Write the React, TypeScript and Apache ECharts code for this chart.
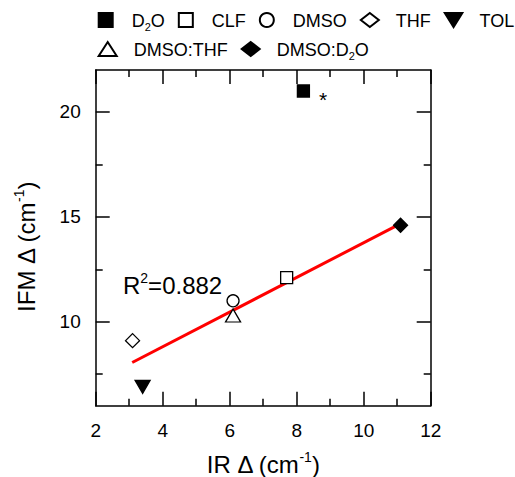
import React, { useEffect, useRef } from 'react';
import * as echarts from 'echarts';

// ---- data ----
const seriesNames = ['D2O', 'CLF', 'DMSO', 'THF', 'TOL', 'DMSO:THF', 'DMSO:D2O'];
const irDelta = [8.2, 7.7, 6.1, 3.1, 3.4, 6.1, 11.1];
const ifmDelta = [21.0, 12.1, 11.0, 9.1, 6.9, 10.3, 14.6];
const fitX = [3.09, 11.13];
const fitY = [8.06, 14.7];
const xTicks = [2, 4, 6, 8, 10, 12];
const yTicks = [10, 15, 20];
const yMinorTicks = [7.5, 12.5, 17.5];
const r2Text = '0.882';
const outlierMark = '*';

// ---- styles ----
const FONT = '"Liberation Sans", Arial, Helvetica, sans-serif';
const markerStyles: Record<string, { symbol: string; size: number | number[]; filled: boolean; rotate?: number }> = {
  'D2O': { symbol: 'rect', size: 12, filled: true },
  'CLF': { symbol: 'rect', size: 12, filled: false },
  'DMSO': { symbol: 'circle', size: 12, filled: false },
  'THF': { symbol: 'diamond', size: 14, filled: false },
  'TOL': { symbol: 'triangle', size: [15, 13], filled: true, rotate: 180 },
  'DMSO:THF': { symbol: 'triangle', size: [15, 13], filled: false },
  'DMSO:D2O': { symbol: 'diamond', size: 14, filled: true },
};
const SQUARE_ICON = 'path://M0,0L10,0L10,10L0,10Z';
const DOWN_TRIANGLE_ICON = 'path://M0,0L10,0L5,8Z';

const richText = {
  t: { fontSize: 18, fontFamily: FONT, color: '#000', lineHeight: 20, verticalAlign: 'bottom' },
  s: { fontSize: 11, fontFamily: FONT, color: '#000', lineHeight: 11, verticalAlign: 'bottom', padding: [0, 0, -2, 0] },
};

function legendLabel(name: string): string {
  if (name.endsWith('D2O')) {
    const pre = name.slice(0, name.length - 2);
    return `{t|${pre}}{s|2}{t|O}`;
  }
  return `{t|${name}}`;
}

function legendItems(names: string[]) {
  return names.map((n) => {
    const st = markerStyles[n];
    if (st.symbol === 'rect') return { name: n, icon: SQUARE_ICON };
    if (st.rotate) return { name: n, icon: DOWN_TRIANGLE_ICON, symbolRotate: 0 };
    return { name: n };
  });
}

const tickLine = { color: '#000', width: 1.5 };

const titleRich = {
  t: { fontSize: 24, fontFamily: FONT, fill: '#000', color: '#000', lineHeight: 26, verticalAlign: 'bottom' },
  p: { fontSize: 14, fontFamily: FONT, fill: '#000', color: '#000', lineHeight: 14, verticalAlign: 'top' },
};

export default function App() {
  const ref = useRef<HTMLDivElement>(null);
  useEffect(() => {
    document.body.style.margin = '0';
    if (!ref.current) return;
    const chart = echarts.init(ref.current, undefined, { renderer: 'svg' });

    const scatterSeries = seriesNames.map((name, i) => {
      const st = markerStyles[name];
      return {
        name,
        type: 'scatter',
        xAxisIndex: 0,
        yAxisIndex: 0,
        symbol: st.symbol,
        symbolSize: st.size,
        symbolRotate: st.rotate || 0,
        itemStyle: {
          color: st.filled ? '#000' : '#fff',
          borderColor: '#000',
          borderWidth: 1.3,
          opacity: 1,
        },
        label: name === 'D2O'
          ? {
              show: true,
              position: 'right',
              distance: 9,
              offset: [0, 9],
              formatter: outlierMark,
              fontSize: 21,
              fontFamily: FONT,
              color: '#000',
            }
          : { show: false },
        z: 3,
        data: [[irDelta[i], ifmDelta[i]]],
      };
    });

    const fitSeries = {
      name: 'fit',
      type: 'line',
      xAxisIndex: 0,
      yAxisIndex: 0,
      showSymbol: false,
      symbol: 'none',
      lineStyle: { color: '#ff0000', width: 3 },
      z: 2,
      data: fitX.map((x, i) => [x, fitY[i]]),
    };

    const baseX = {
      type: 'value',
      min: xTicks[0],
      max: xTicks[xTicks.length - 1],
      interval: 2,
      splitLine: { show: false },
      axisLine: { show: true, lineStyle: { color: '#000', width: 1.5 } },
      axisTick: { show: true, inside: true, length: 14, lineStyle: tickLine },
      minorTick: { show: true, splitNumber: 2, length: 7, lineStyle: tickLine },
    };

    const baseY = {
      type: 'value',
      min: 6,
      max: 22,
      splitLine: { show: false },
    };

    const legendBase = {
      left: 97.7,
      width: 560,
      orient: 'horizontal',
      padding: 0,
      itemWidth: 18,
      itemHeight: 14,
      itemGap: 13,
      selectedMode: false,
      symbolRotate: 0,
      formatter: legendLabel,
      textStyle: { fontSize: 18, fontFamily: FONT, color: '#000', padding: [0, 0, 0, 12], rich: richText },
    };

    const option = {
      animation: false,
      backgroundColor: '#fff',
      grid: { left: 95.7, right: 84.3, top: 70, bottom: 71.3, outerBoundsMode: 'none' },
      legend: [
        { ...legendBase, data: legendItems(seriesNames.slice(0, 5)), top: 12 },
        { ...legendBase, data: legendItems(seriesNames.slice(5)), top: 41 },
      ],
      xAxis: [
        {
          ...baseX,
          position: 'bottom',
          axisLabel: { show: true, margin: 15, fontSize: 19, fontFamily: FONT, color: '#000' },
        },
        {
          ...baseX,
          position: 'top',
          axisLabel: { show: false },
        },
      ],
      yAxis: [
        {
          ...baseY,
          position: 'left',
          axisLine: { show: true, lineStyle: { color: '#000', width: 1.5 } },
          axisTick: { show: true, inside: true, length: 14, lineStyle: tickLine, customValues: yTicks },
          axisLabel: { show: true, margin: 15, fontSize: 19, fontFamily: FONT, color: '#000', customValues: yTicks },
        },
        {
          ...baseY,
          position: 'left',
          axisLine: { show: false },
          axisTick: { show: true, inside: true, length: 7, lineStyle: tickLine, customValues: yMinorTicks },
          axisLabel: { show: false },
        },
        {
          ...baseY,
          position: 'right',
          axisLine: { show: true, lineStyle: { color: '#000', width: 1.5 } },
          axisTick: { show: true, inside: true, length: 14, lineStyle: tickLine, customValues: yTicks },
          axisLabel: { show: false },
        },
        {
          ...baseY,
          position: 'right',
          axisLine: { show: false },
          axisTick: { show: true, inside: true, length: 7, lineStyle: tickLine, customValues: yMinorTicks },
          axisLabel: { show: false },
        },
      ],
      graphic: [
        {
          type: 'text',
          x: 263,
          y: 463,
          style: {
            text: '{t|IR Δ (cm}{p|-1}{t|)}',
            align: 'center',
            verticalAlign: 'middle',
            rich: titleRich,
          },
        },
        {
          type: 'text',
          x: 25,
          y: 247,
          rotation: Math.PI / 2,
          style: {
            text: '{t|IFM Δ (cm}{p|-1}{t|)}',
            align: 'center',
            verticalAlign: 'middle',
            rich: titleRich,
          },
        },
        {
          type: 'text',
          x: 123,
          y: 284,
          style: {
            text: `{t|R}{p|2}{t|=${r2Text}}`,
            align: 'left',
            verticalAlign: 'middle',
            rich: titleRich,
          },
        },
      ],
      series: [fitSeries, ...scatterSeries],
    };

    chart.setOption(option as any);
    return () => chart.dispose();
  }, []);

  return <div ref={ref} style={{ width: 515, height: 477 }} />;
}
